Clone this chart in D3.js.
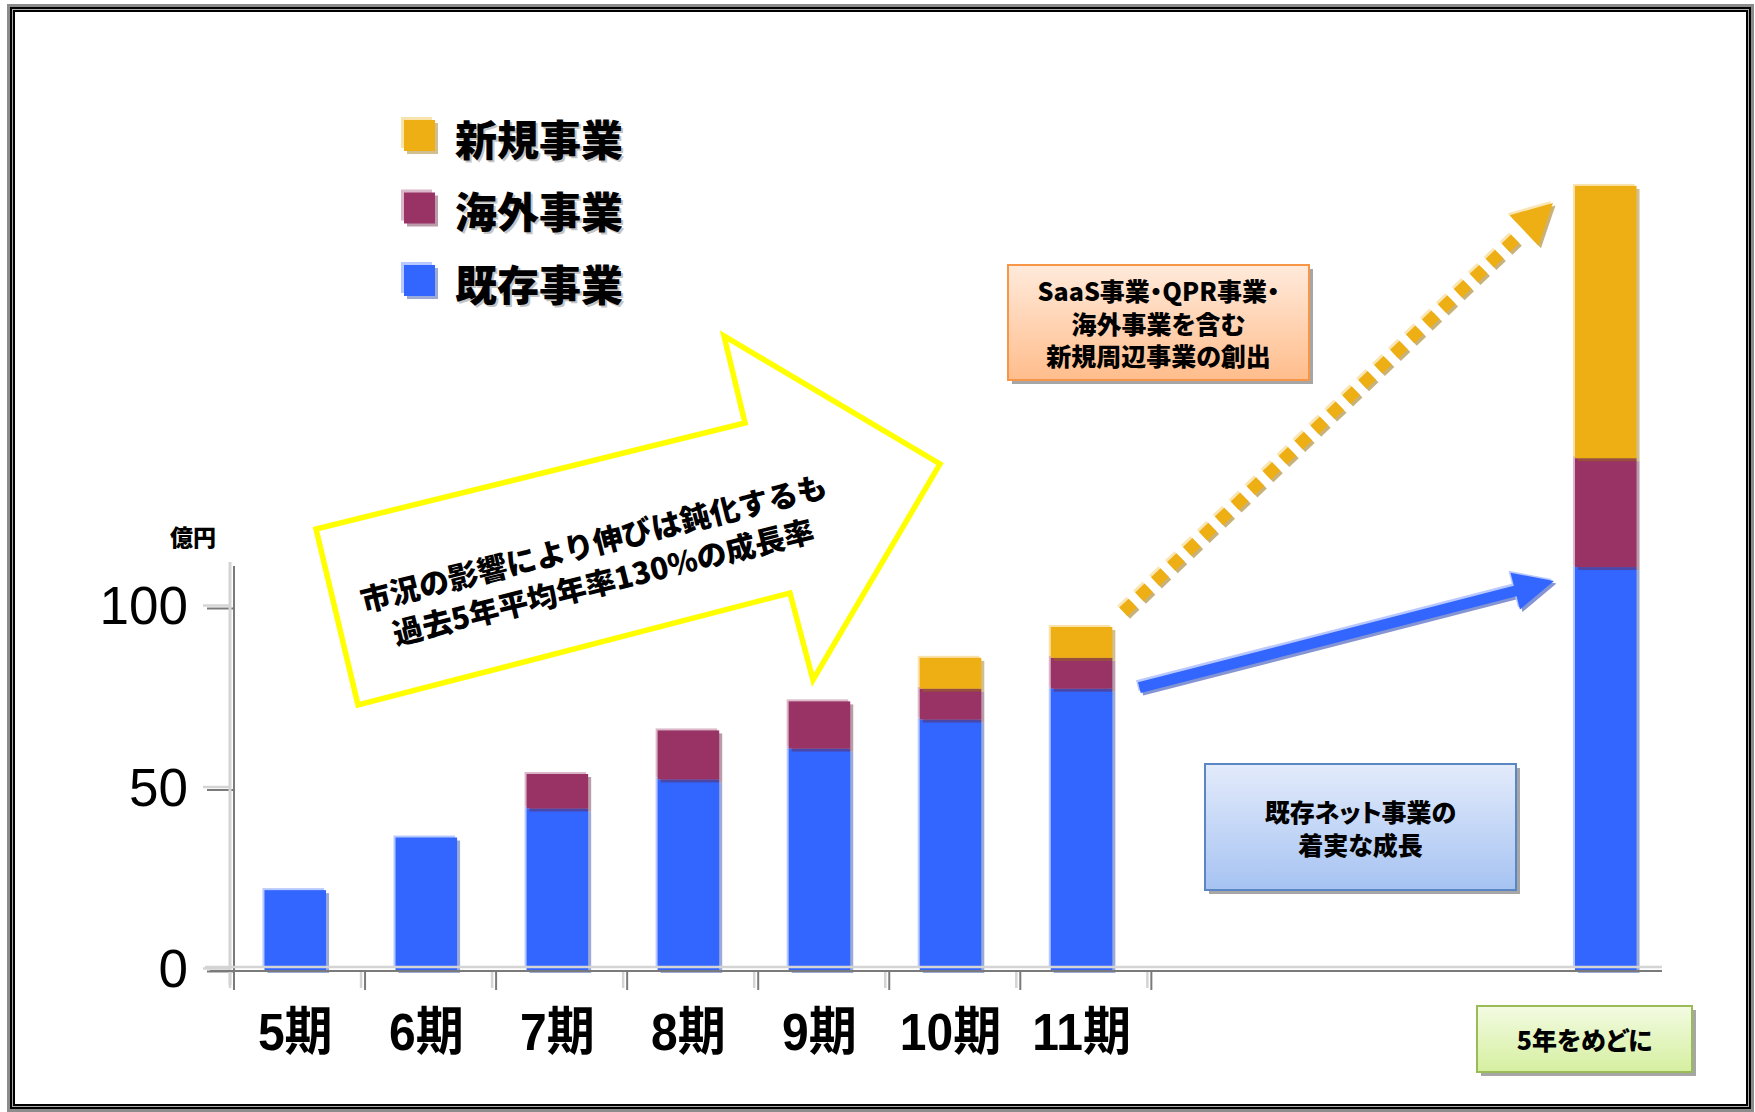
<!DOCTYPE html>
<html>
<head>
<meta charset="utf-8">
<script src="https://cdn.jsdelivr.net/npm/d3@7"></script>
<style>
body { margin: 0; background: #fff; }
svg { display: block; }
text { font-family: "Noto Sans CJK JP", sans-serif; }
</style>
</head>
<body>
<svg id="svg"></svg>
<script>
// data (億円)
const categories = ['5期','6期','7期','8期','9期','10期','11期'];
const targetLabel = '5年をめどに';
const existing = [22, 36.5, 44.5, 52.5, 61, 69, 77.5, 111];
const overseas = [0, 0, 9.5, 13.5, 13, 8.5, 8.5, 30];
const newBiz   = [0, 0, 0, 0, 0, 8.5, 8.5, 75];
const seriesKeys = ['existing','overseas','newBiz'];
const legendNames = ['新規事業','海外事業','既存事業'];
const yTicks = [0, 50, 100];
const colors = {existing:'#3366ff', overseas:'#993366', newBiz:'#edaf14'};

const W = 1755, H = 1112;
const svg = d3.select('#svg').attr('width', W).attr('height', H);
const defs = svg.append('defs');

// frame (double border)
svg.append('rect').attr('x',8.5).attr('y',5.5).attr('width',1744).attr('height',1105)
  .attr('fill','#fff').attr('stroke','#8c8c8c').attr('stroke-width',3);
svg.append('rect').attr('x',11).attr('y',8).attr('width',1739).attr('height',1100)
  .attr('fill','none').attr('stroke','#000').attr('stroke-width',2);
svg.append('rect').attr('x',12.5).attr('y',9.5).attr('width',1736).attr('height',1097)
  .attr('fill','none').attr('stroke','#aaa').attr('stroke-width',1);
svg.append('rect').attr('x',14).attr('y',11).attr('width',1733).attr('height',1094)
  .attr('fill','none').attr('stroke','#000').attr('stroke-width',2);

// scales
const keys = [...categories, 'target'];
const slots = [...categories, 'gap1','gap2','gap3','target'];
const x = d3.scaleBand().domain(slots).range([233, 1668]).paddingInner(0.53).paddingOuter(0.24);
const y = d3.scaleLinear().domain([0, 100]).range([970, 607]);
const bw = x.bandwidth();

const rows = keys.map((k,i) => ({key:k, existing:existing[i], overseas:overseas[i], newBiz:newBiz[i]}));
const stack = d3.stack().keys(seriesKeys)(rows);

const light = c => d3.interpolateRgb(c, '#fff')(0.65);
const dark = c => d3.color(c).darker(1.2).copy({opacity:0.45});

// bars
const layers = svg.append('g').selectAll('g').data(stack).enter().append('g');
layers.each(function(layer) {
  const c = colors[layer.key];
  const segs = d3.select(this).selectAll('g')
    .data(layer.filter(d => d[1] - d[0] > 0)).enter().append('g');
  segs.append('rect').attr('x', d => x(d.data.key) - 2).attr('y', d => y(d[1]) - 2)
    .attr('width', bw).attr('height', d => y(d[0]) - y(d[1])).attr('fill', light(c));
  segs.append('rect').attr('x', d => x(d.data.key) + 3).attr('y', d => y(d[1]) + 3)
    .attr('width', bw).attr('height', d => y(d[0]) - y(d[1])).attr('fill', dark(c));
  segs.append('rect').attr('x', d => x(d.data.key)).attr('y', d => y(d[1]))
    .attr('width', bw).attr('height', d => y(d[0]) - y(d[1])).attr('fill', c);
});

// y axis
const yAxis = svg.append('g').attr('transform', 'translate(233,0)')
  .call(d3.axisLeft(y).tickValues(yTicks).tickSize(0).tickPadding(45));
yAxis.select('.domain').remove();
yAxis.selectAll('text').style('font-family','"Liberation Sans", Arial, sans-serif')
  .style('font-size','53px').attr('fill','#000');
yAxis.selectAll('.tick').append('line').attr('x1',-30).attr('x2',-2).attr('y1',-2).attr('y2',-2)
  .attr('stroke','#d4d4d4').attr('stroke-width',2.5);
yAxis.selectAll('.tick').append('line').attr('x1',-26).attr('x2',0).attr('y1',1).attr('y2',1)
  .attr('stroke','#7a7a7a').attr('stroke-width',2);
svg.append('line').attr('x1',230).attr('x2',230).attr('y1',562).attr('y2',985)
  .attr('stroke','#d4d4d4').attr('stroke-width',3);
svg.append('line').attr('x1',234).attr('x2',234).attr('y1',566).attr('y2',989)
  .attr('stroke','#7a7a7a').attr('stroke-width',2);
svg.append('text').attr('x',193).attr('y',536).attr('text-anchor','middle')
  .attr('dominant-baseline','central').style('font-size','23px').style('font-weight',900)
  .text('億円');

// x axis
svg.append('line').attr('x1',205).attr('x2',1662).attr('y1',y(0)-3).attr('y2',y(0)-3)
  .attr('stroke','#d4d4d4').attr('stroke-width',2.5);
svg.append('line').attr('x1',210).attr('x2',1662).attr('y1',y(0)+1).attr('y2',y(0)+1)
  .attr('stroke','#7a7a7a').attr('stroke-width',2);
const bounds = d3.range(categories.length + 1).map(i => x.range()[0] + i * x.step());
svg.append('g').selectAll('line').data(bounds).enter().append('line')
  .attr('x1', d => d - 3).attr('x2', d => d - 3).attr('y1', y(0) + 2).attr('y2', y(0) + 18)
  .attr('stroke','#d4d4d4').attr('stroke-width',2.5);
svg.append('g').selectAll('line').data(bounds).enter().append('line')
  .attr('x1', d => d + 1).attr('x2', d => d + 1).attr('y1', y(0) + 2).attr('y2', y(0) + 20)
  .attr('stroke','#7a7a7a').attr('stroke-width',2);
svg.append('g').selectAll('text').data(categories).enter().append('text')
  .attr('transform', d => `translate(${x(d) + bw / 2},1032) scale(1,1.08)`)
  .attr('text-anchor','middle').attr('dominant-baseline','central')
  .style('font-family','"Liberation Sans", "Noto Sans CJK JP", sans-serif')
  .style('font-size','48px').style('font-weight',700)
  .text(d => d);

// legend
const legend = svg.append('g').selectAll('g').data(legendNames).enter().append('g')
  .attr('transform', (_, i) => `translate(404,${120 + i * 72.5})`);
const legendColor = [colors.newBiz, colors.overseas, colors.existing];
legend.append('rect').attr('x',-3).attr('y',-3).attr('width',31).attr('height',31)
  .attr('fill', (_, i) => light(legendColor[i]));
legend.append('rect').attr('x',3).attr('y',3).attr('width',31).attr('height',31)
  .attr('fill', (_, i) => dark(legendColor[i]));
legend.append('rect').attr('width',31).attr('height',31).attr('fill', (_, i) => legendColor[i]);
legend.append('text').attr('x',53).attr('y',19).attr('dominant-baseline','central')
  .style('font-size','42px').style('font-weight',900).attr('fill','#c4c4c4').text(d => d);
legend.append('text').attr('x',51).attr('y',17).attr('dominant-baseline','central')
  .style('font-size','42px').style('font-weight',900).attr('fill','#000').text(d => d);

// big yellow outline arrow
const bigArrow = [[358,705],[316,529],[745,423],[724,336],[940,464],[813,680],[790,593]];
svg.append('polygon').attr('points', bigArrow.map(p => p.join(',')).join(' '))
  .attr('fill','#fff').attr('stroke','#ffff00').attr('stroke-width',5.5).attr('stroke-linejoin','miter');
const arrowText = svg.append('g').attr('transform','translate(598,561) rotate(-14)');
arrowText.selectAll('text').data(['市況の影響により伸びは鈍化するも','過去5年平均年率130%の成長率'])
  .enter().append('text').attr('y', (_, i) => i * 40 - 20).attr('text-anchor','middle')
  .attr('dominant-baseline','central').style('font-size','30px').style('font-weight',900)
  .text(d => d);

// gradient boxes
function grad(id, c1, c2) {
  const g = defs.append('linearGradient').attr('id', id).attr('x1',0).attr('x2',0).attr('y1',0).attr('y2',1);
  g.append('stop').attr('offset','0%').attr('stop-color', c1);
  g.append('stop').attr('offset','100%').attr('stop-color', c2);
}
grad('gOrange', '#ffeadb', '#ffbd8c');
grad('gBlue', '#e3ebfb', '#a6c3f2');
grad('gGreen', '#f3fbe2', '#d5efa0');
function box(bx, by, bwid, bh, fill, stroke, lines, size, lh) {
  const g = svg.append('g');
  g.append('rect').attr('x', bx + 4).attr('y', by + 4).attr('width', bwid).attr('height', bh).attr('fill','#a6a6a6');
  g.append('rect').attr('x', bx).attr('y', by).attr('width', bwid).attr('height', bh)
    .attr('fill', `url(#${fill})`).attr('stroke', stroke).attr('stroke-width', 2);
  const cy = by + bh / 2 - (lines.length - 1) * lh / 2;
  g.selectAll('text').data(lines).enter().append('text')
    .attr('x', bx + bwid / 2).attr('y', (_, i) => cy + i * lh)
    .attr('text-anchor','middle').attr('dominant-baseline','central')
    .style('font-feature-settings','"palt"')
    .style('font-size', size + 'px').style('font-weight', 900).text(d => d);
}
box(1008, 265, 301, 115, 'gOrange', '#f79646', ['SaaS事業・QPR事業・','海外事業を含む','新規周辺事業の創出'], 25, 32.5);
box(1205, 764, 311, 126, 'gBlue', '#5a86c4', ['既存ネット事業の','着実な成長'], 25, 33);
box(1477, 1006, 215, 66, 'gGreen', '#9bbb59', [targetLabel], 25, 0);

// gold dotted arrow to the target total
const last = rows.length - 1;
const g0 = [x('11期') + bw + 11, y(existing[last-1] + overseas[last-1] + newBiz[last-1]) - 15];
const g1 = [x('target') - 22, y(existing[last] + overseas[last] + newBiz[last]) + 17];
function headPts(a, b, len, half) {
  const dx = b[0] - a[0], dy = b[1] - a[1], L = Math.hypot(dx, dy);
  const ux = dx / L, uy = dy / L, nx = -uy, ny = ux;
  const bc = [b[0] - ux * len, b[1] - uy * len];
  return {bc, ux, uy, nx, ny, pts: [b, [bc[0] + nx * half, bc[1] + ny * half], [bc[0] - nx * half, bc[1] - ny * half]]};
}
const gh = headPts(g0, g1, 40, 21);
const gEnd = [gh.bc[0] - gh.ux * 4, gh.bc[1] - gh.uy * 4];
[[2.5, 2.5, '#c9b27a'], [-2, -2, '#fae6b4'], [0, 0, '#edaf14']].forEach(([ox, oy, c]) => {
  svg.append('line').attr('x1', g0[0] + ox).attr('y1', g0[1] + oy).attr('x2', gEnd[0] + ox).attr('y2', gEnd[1] + oy)
    .attr('stroke', c).attr('stroke-width', 12).attr('stroke-dasharray', '13 9');
  svg.append('polygon').attr('points', gh.pts.map(p => [p[0] + ox, p[1] + oy].join(',')).join(' ')).attr('fill', c);
});

// blue arrow to the target existing business
const b0 = [x('11期') + bw + 27, y(existing[last-1]) - 1];
const b1 = [x('target') - 21, y(existing[last]) + 14];
const bh = headPts(b0, b1, 40, 19);
const sw = 5.5;
const bluePts = [
  [b0[0] + bh.nx * sw, b0[1] + bh.ny * sw],
  [bh.bc[0] + bh.nx * sw, bh.bc[1] + bh.ny * sw],
  bh.pts[1], bh.pts[0], bh.pts[2],
  [bh.bc[0] - bh.nx * sw, bh.bc[1] - bh.ny * sw],
  [b0[0] - bh.nx * sw, b0[1] - bh.ny * sw]
];
[[2.5, 2.5, '#8595d4'], [-2, -2, '#b9c9ff'], [0, 0, '#3366ff']].forEach(([ox, oy, c]) => {
  svg.append('polygon').attr('points', bluePts.map(p => [p[0] + ox, p[1] + oy].join(',')).join(' ')).attr('fill', c);
});
</script>
</body>
</html>
